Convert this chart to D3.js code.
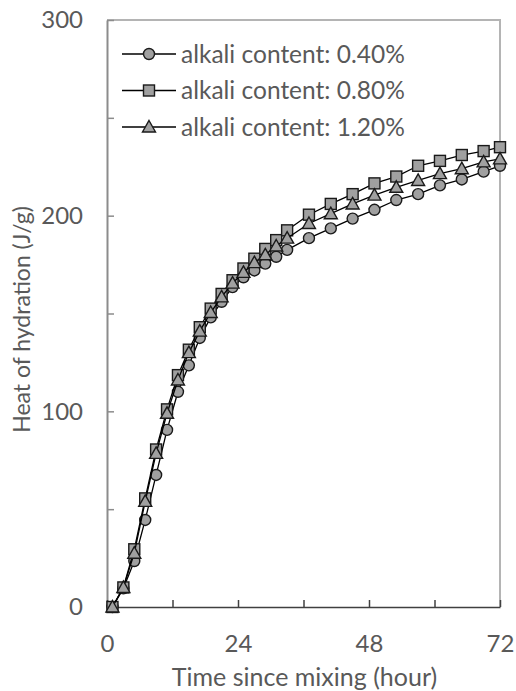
<!DOCTYPE html>
<html>
<head>
<meta charset="utf-8">
<script src="https://cdn.jsdelivr.net/npm/d3@7"></script>
<style>
  html, body { margin: 0; padding: 0; background: #fff; }
  svg { display: block; }
  text { font-family: Lato, "Open Sans", sans-serif; fill: #595959; }
</style>
</head>
<body>
<svg id="chart" width="516" height="691"></svg>
<script>
// Measurement times (hours since mixing)
const hours = [1, 3, 5, 7, 9, 11, 13, 15, 17, 19, 21, 23, 25, 27, 29, 31, 33,
               37, 41, 45, 49, 53, 57, 61, 65, 69, 72];

// Cumulative heat of hydration (J/g) for each alkali content
const heat040 = [0, 9.5, 23.5, 44.5, 67.5, 90.5, 110, 123.5, 137.5, 148, 156, 163.5, 168.5, 172, 175.5, 179, 182.5,
                 188.5, 193.5, 198.5, 203, 208, 211, 215.5, 218.5, 222.5, 225.5];
const heat080 = [0, 10, 29.5, 55.5, 80.5, 101, 118.5, 131.5, 143, 152.5, 160, 167, 173, 178, 183, 187.5, 192.5,
                 200.5, 206, 211, 216.5, 220, 225.5, 228, 231, 233, 235];
const heat120 = [0, 10, 27.5, 54, 78.5, 99, 116, 130, 141, 150.5, 158.5, 165.5, 171, 176, 180, 184.5, 188.5,
                 196, 201, 206, 210.5, 214.5, 218, 221.5, 224, 227.5, 229];

const seriesNames = ["alkali content: 0.40%", "alkali content: 0.80%", "alkali content: 1.20%"];
const seriesShapes = ["circle", "square", "triangle"];

// Axis ticks
const xTicks = [0, 12, 24, 36, 48, 60, 72];
const xTickLabels = [0, 24, 48, 72];
const yTicks = [0, 50, 100, 150, 200, 250, 300];
const yTickLabels = [0, 100, 200, 300];

const series = [heat040, heat080, heat120].map((vals, i) => ({
  name: seriesNames[i],
  shape: seriesShapes[i],
  points: hours.map((h, j) => ({ h, v: vals[j] }))
}));

const svg = d3.select("#chart");
const plotLeft = 107, plotRight = 500, plotTop = 20, plotBottom = 607;

const x = d3.scaleLinear().domain([0, 72]).range([plotLeft, plotRight]);
const y = d3.scaleLinear().domain([0, 300]).range([plotBottom, plotTop]);

// Plot-area border (top and right)
svg.append("path")
  .attr("d", `M${plotLeft},${plotTop}H${plotRight}V${plotBottom}`)
  .attr("fill", "none")
  .attr("stroke", "#b4b4b4")
  .attr("stroke-width", 2);

// Y axis
const yAxis = svg.append("g")
  .attr("transform", `translate(${plotLeft},0)`)
  .call(d3.axisLeft(y)
    .tickValues(yTicks)
    .tickSizeInner(-7)
    .tickSizeOuter(0)
    .tickPadding(24)
    .tickFormat(d => yTickLabels.includes(d) ? d : ""));
yAxis.select(".domain").attr("stroke", "#8c8c8c").attr("stroke-width", 2);
yAxis.selectAll(".tick line").attr("stroke", "#8c8c8c").attr("stroke-width", 1.5);
yAxis.selectAll(".tick text")
  .attr("font-size", 24)
  .attr("font-family", "Lato, sans-serif")
  .attr("fill", "#595959");

// X axis
const xAxis = svg.append("g")
  .attr("transform", `translate(0,${plotBottom})`)
  .call(d3.axisBottom(x)
    .tickValues(xTicks)
    .tickSizeInner(-7)
    .tickSizeOuter(0)
    .tickPadding(28)
    .tickFormat(d => xTickLabels.includes(d) ? d : ""));
xAxis.select(".domain").attr("stroke", "#404040").attr("stroke-width", 1.5);
xAxis.selectAll(".tick line").attr("stroke", "#404040").attr("stroke-width", 1.5);
xAxis.selectAll(".tick text")
  .attr("font-size", 24)
  .attr("font-family", "Lato, sans-serif")
  .attr("fill", "#595959");

// Axis titles
svg.append("text")
  .attr("x", (plotLeft + plotRight) / 2 + 1)
  .attr("y", 686)
  .attr("text-anchor", "middle")
  .attr("font-size", 25)
  .text("Time since mixing (hour)");

svg.append("text")
  .attr("transform", `translate(30,${(plotTop + plotBottom) / 2 + 6}) rotate(-90)`)
  .attr("text-anchor", "middle")
  .attr("font-size", 23)
  .text("Heat of hydration (J/g)");

// Marker drawing
const markerFill = "#a0a0a0";
const markerStroke = "#1a1a1a";
function drawMarker(g, shape, cx, cy) {
  if (shape === "circle") {
    g.append("circle").attr("cx", cx).attr("cy", cy).attr("r", 5.5);
  } else if (shape === "square") {
    g.append("rect").attr("x", cx - 5.5).attr("y", cy - 5.5).attr("width", 11).attr("height", 11);
  } else {
    g.append("path").attr("d", `M${cx},${cy - 6.5}L${cx + 6.5},${cy + 5}L${cx - 6.5},${cy + 5}Z`);
  }
}

const line = d3.line().x(d => x(d.h)).y(d => y(d.v));

series.forEach(s => {
  const g = svg.append("g").attr("class", "series");
  g.append("path")
    .datum(s.points)
    .attr("d", line)
    .attr("fill", "none")
    .attr("stroke", "#000")
    .attr("stroke-width", 1.3);
  const mg = g.append("g")
    .attr("fill", markerFill)
    .attr("stroke", markerStroke)
    .attr("stroke-width", 1.4);
  s.points.forEach(p => drawMarker(mg, s.shape, x(p.h), y(p.v)));
});

// Legend
const legendRows = [54, 90.5, 127];
series.forEach((s, i) => {
  const ly = legendRows[i];
  const g = svg.append("g").attr("class", "legend-item");
  g.append("line")
    .attr("x1", 122).attr("x2", 176)
    .attr("y1", ly).attr("y2", ly)
    .attr("stroke", "#000").attr("stroke-width", 1.3);
  const mg = g.append("g")
    .attr("fill", markerFill)
    .attr("stroke", markerStroke)
    .attr("stroke-width", 1.4);
  drawMarker(mg, s.shape, 149, ly);
  g.append("text")
    .attr("x", 181)
    .attr("y", ly + 8.5)
    .attr("font-size", 24.5)
    .text(s.name);
});
</script>
</body>
</html>
